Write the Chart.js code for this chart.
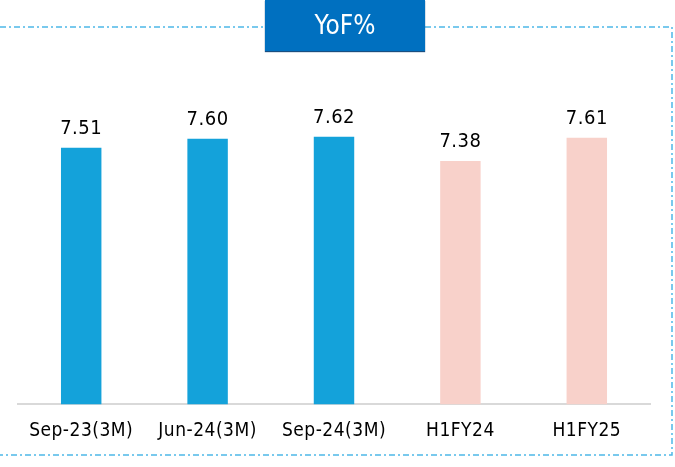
<!DOCTYPE html>
<html>
<head>
<meta charset="utf-8">
<script src="https://cdn.jsdelivr.net/npm/chart.js@4"></script>
<style>
  html, body { margin: 0; padding: 0; background: #fff; }
  #wrap { position: relative; width: 675px; height: 467px; }
  #title {
    position: absolute; left: 265px; top: 0; width: 160px; height: 51px;
    background: #0070C0; color: #fff; box-shadow: 0 1px 1px #1a4f80;
    font-family: "Liberation Sans Narrow", "DejaVu Sans Condensed", sans-serif;
    font-size: 26px; line-height: 51px; text-align: center;
  }
</style>
</head>
<body>
<div id="wrap">
  <canvas id="myChart" width="675" height="467"></canvas>
  <div id="title">YoF%</div>
</div>
<script>
var categories = ["Sep-23(3M)", "Jun-24(3M)", "Sep-24(3M)", "H1FY24", "H1FY25"];
var values = [7.51, 7.60, 7.62, 7.38, 7.61];
var barColors = ["#14A2DA", "#14A2DA", "#14A2DA", "#F8D1CA", "#F8D1CA"];

// frame, tick letter spacing and the value labels over the bars
var extras = {
  id: "extras",
  beforeDraw: function(chart) {
    var c = chart.ctx;
    c.save();
    c.strokeStyle = "#4DB8E8";
    c.lineWidth = 1.5;
    c.setLineDash([6, 3, 2, 3]);
    c.beginPath();
    c.moveTo(0, 27); c.lineTo(265, 27);
    c.moveTo(425, 27); c.lineTo(672, 27);
    c.lineTo(672, 455); c.lineTo(0, 455);
    c.stroke();
    c.restore();
    c.letterSpacing = "0.5px";
  },
  beforeDatasetsDraw: function(chart) {
    chart.ctx.letterSpacing = "0px";
  },
  afterDatasetsDraw: function(chart) {
    var c = chart.ctx;
    var meta = chart.getDatasetMeta(0);
    c.save();
    c.fillStyle = "#000";
    c.font = "20px 'DejaVu Sans Condensed', 'DejaVu Sans'";
    c.letterSpacing = "0.5px";
    c.textAlign = "center";
    c.textBaseline = "alphabetic";
    meta.data.forEach(function(bar, i) {
      c.fillText(values[i].toFixed(2), bar.x, bar.y - 14);
    });
    c.restore();
  }
};

var ctx = document.getElementById("myChart").getContext("2d");
new Chart(ctx, {
  type: "bar",
  data: {
    labels: categories,
    datasets: [
      {
        data: values,
        backgroundColor: barColors,
        categoryPercentage: 1,
        barPercentage: 0.32
      }
    ]
  },
  options: {
    responsive: false,
    animation: false,
    layout: { padding: { left: 18, right: 25, top: 59, bottom: 18 } },
    plugins: { legend: { display: false }, tooltip: { enabled: false } },
    scales: {
      x: {
        grid: { display: false },
        border: { display: true, color: "#D9D9D9", width: 2 },
        ticks: {
          color: "#000",
          padding: 7,
          font: { family: "'DejaVu Sans Condensed', 'DejaVu Sans'", size: 19 }
        }
      },
      y: { display: false, min: 4.97, max: 8.39 }
    }
  },
  plugins: [extras]
});
</script>
</body>
</html>
